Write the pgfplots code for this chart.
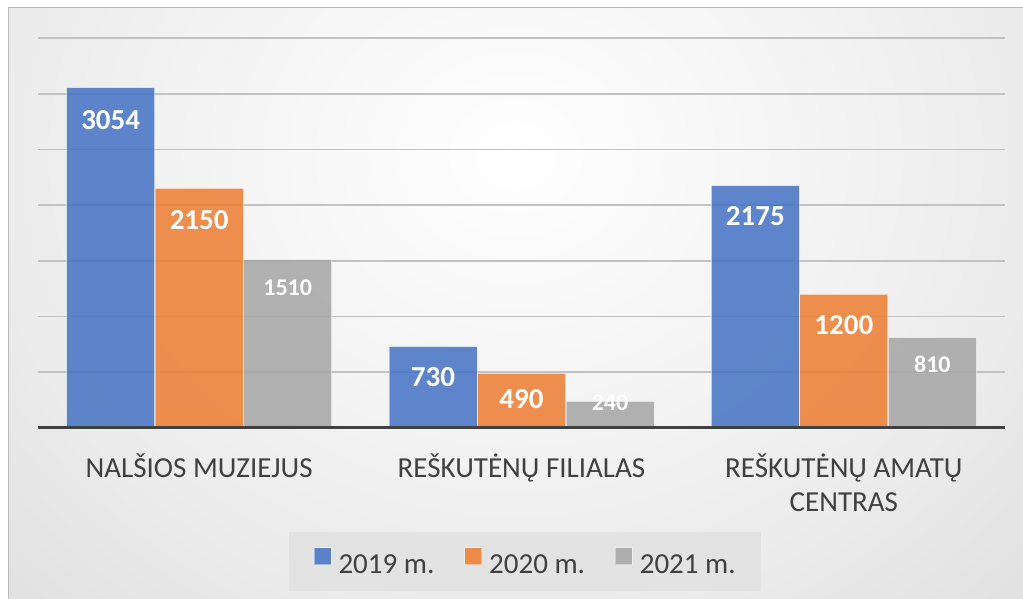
\documentclass[border=0pt]{standalone}
\usepackage{pgfplots}
\pgfplotsset{compat=1.18}
\usepackage{pgfplotstable}
\usepackage{fontspec}
\setmainfont{Carlito}

\definecolor{cBlue}{HTML}{4472C4}
\definecolor{cOrange}{HTML}{ED7D31}
\definecolor{cGray}{HTML}{A5A5A5}
\definecolor{txt}{HTML}{404040}
\definecolor{gridc}{HTML}{C2C2C2}
\definecolor{legfill}{HTML}{E3E3E3}
\definecolor{bgA}{RGB}{255,255,255}
\definecolor{bgB}{RGB}{236,236,236}
\definecolor{bgC}{RGB}{210,210,210}
\definecolor{bgD}{RGB}{198,198,198}
\definecolor{bgE}{RGB}{190,190,190}
\pgfdeclareradialshading{chartbg}{\pgfpoint{0bp}{0bp}}{color(0bp)=(bgA); color(12.5bp)=(bgB); color(25bp)=(bgC); color(36bp)=(bgD); color(50bp)=(bgE)}

\pgfplotstableread{
x y lab off
0 3054 3054 32
1 730 730 30.5
2 2175 2175 30.5
}\tA
\pgfplotstableread{
x y lab off
0 2150 2150 31.5
1 490 490 26
2 1200 1200 31
}\tB
\pgfplotstableread{
x y lab off
0 1510 1510 28
1 240 240 1.5
2 810 810 27
}\tC

\begin{document}
\begin{tikzpicture}
\useasboundingbox (0pt,0pt) rectangle (1023pt,598pt);
\begin{scope}
\clip (8pt,0pt) rectangle (1023pt,590pt);
\shade[shading=chartbg] (-498.5pt,-441.5pt) rectangle (1529.5pt,1326.5pt);
\end{scope}
\draw[color=black!28, line width=1pt] (8pt,0pt) -- (8pt,590pt) -- (1023pt,590pt);
\begin{axis}[
  at={(38pt,170pt)}, anchor=south west,
  scale only axis, width=967pt, height=390pt,
  xmin=-0.5, xmax=2.5, ymin=0, ymax=3500,
  ybar=0.5pt, bar width=88pt,
  axis line style={draw=none},
  ytick={0,500,...,3500}, yticklabels={},
  ymajorgrids, grid style={color=gridc, line width=1.7pt},
  major tick length=0pt,
  xtick={0,1,2},
  xticklabels={{\rule{0pt}{26pt}NALŠIOS MUZIEJUS}, {\rule{0pt}{26pt}REŠKUTĖNŲ FILIALAS}, {\rule{0pt}{26pt}REŠKUTĖNŲ AMATŲ\\CENTRAS}},
  xticklabel style={align=center, font=\fontsize{29}{34}\selectfont, text=txt, anchor=north, inner sep=0pt, yshift=-23pt},
  point meta=explicit symbolic,
  nodes near coords={\pgfplotspointmeta},
  visualization depends on={\thisrow{off}\as\myoff},
  every node near coord/.append style={anchor=center, yshift=-\myoff pt, text=white, text opacity=1, fill opacity=1, inner sep=0pt},
  legend columns=3,
  legend style={at={(axis description cs:0.5033,-0.342)}, anchor=center, fill=legfill, draw=none,
    font=\fontsize{29}{34}\selectfont, text=txt,
    nodes={inner sep=0pt}, column sep=0pt, inner xsep=25pt, inner ysep=15.5pt,
    /tikz/every odd column/.append style={column sep=7pt},
    /tikz/every even column/.append style={column sep=30pt}},
  legend image code/.code={\fill[#1] (0pt,0.6pt) rectangle (17pt,17.6pt);},
]
\addplot[fill=cBlue, fill opacity=0.85, draw=white, draw opacity=0.45, line width=0.8pt,
  nodes near coords style={font=\fontsize{29}{34}\selectfont\bfseries}]
  table[x=x, y=y, meta=lab] {\tA};
\addplot[fill=cOrange, fill opacity=0.85, draw=white, draw opacity=0.45, line width=0.8pt,
  nodes near coords style={font=\fontsize{29}{34}\selectfont\bfseries}]
  table[x=x, y=y, meta=lab] {\tB};
\addplot[fill=cGray, fill opacity=0.85, draw=white, draw opacity=0.45, line width=0.8pt,
  nodes near coords style={font=\fontsize{24}{29}\selectfont\bfseries}]
  table[x=x, y=y, meta=lab] {\tC};
\legend{2019 m., 2020 m., 2021 m.}
\draw[color=txt, line width=3.5pt] (axis cs:-0.5,0) -- (axis cs:2.5,0);
\end{axis}
\end{tikzpicture}
\end{document}
